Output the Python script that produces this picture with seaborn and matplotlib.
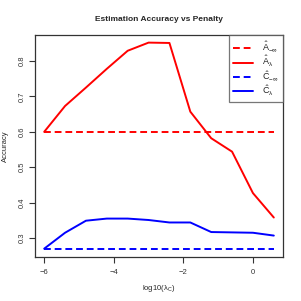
import matplotlib
matplotlib.use("Agg")
import matplotlib.pyplot as plt
import seaborn as sns
import pandas as pd

log_lambda = [-6.0, -5.4, -4.8, -4.2, -3.6, -3.0, -2.4, -1.8, -1.2, -0.6, 0.0, 0.6]
acc_A_lambda = [0.600, 0.673, 0.725, 0.778, 0.829, 0.852, 0.851, 0.657, 0.582, 0.544, 0.427, 0.358]
acc_C_lambda = [0.270, 0.315, 0.349, 0.355, 0.355, 0.351, 0.344, 0.344, 0.317, 0.316, 0.315, 0.307]
acc_A_inf = 0.600
acc_C_inf = 0.270

labels = [r'$\hat{A}_{-\infty}$', r'$\hat{A}_{\lambda}$', r'$\hat{C}_{-\infty}$', r'$\hat{C}_{\lambda}$']

sns.set_style("white")
plt.rcParams['font.family'] = ['Liberation Sans', 'DejaVu Sans']
plt.rcParams['mathtext.fontset'] = 'custom'
plt.rcParams['mathtext.rm'] = 'Liberation Sans'
plt.rcParams['mathtext.it'] = 'Liberation Sans'

fig = plt.figure(figsize=(3.01, 3.01), dpi=100)
ax = fig.add_axes([35/301, 44/301, 248/301, 222/301])

df = pd.DataFrame({
    "x": log_lambda * 4,
    "y": [acc_A_inf] * len(log_lambda) + acc_A_lambda + [acc_C_inf] * len(log_lambda) + acc_C_lambda,
    "series": sum([[l] * len(log_lambda) for l in labels], []),
})

colors = {labels[0]: "#ff0000", labels[1]: "#ff0000", labels[2]: "#0000ff", labels[3]: "#0000ff"}
dash_map = {labels[0]: (3.5, 2.0), labels[1]: "", labels[2]: (3.5, 2.0), labels[3]: ""}

sns.lineplot(data=df, x="x", y="y", hue="series", style="series", palette=colors,
             dashes=dash_map, linewidth=1.4, ax=ax, legend=True)

ax.set_xlim(-6.264, 0.864)
ax.set_ylim(0.2465, 0.8735)
ax.set_xticks([-6, -4, -2, 0])
ax.set_xticklabels(["\u22126", "\u22124", "\u22122", "0"])
ax.set_yticks([0.3, 0.4, 0.5, 0.6, 0.7, 0.8])
ax.set_yticklabels(["0.3", "0.4", "0.5", "0.6", "0.7", "0.8"], rotation=90, va="center")
ax.tick_params(axis="both", direction="out", length=4, width=0.8, labelsize=5.5,
               bottom=True, left=True, colors="#333333", labelcolor="#333333")
ax.tick_params(axis="y", pad=3)
ax.tick_params(axis="x", pad=5)
for s in ax.spines.values():
    s.set_color("#333333")
    s.set_linewidth(0.9)

ax.set_xlabel(r"log10($\lambda_C$)", fontsize=5.5, labelpad=5)
ax.set_ylabel("Accuracy", fontsize=5.5, labelpad=7)
ax.set_title("Estimation Accuracy vs Penalty", fontsize=6.0, fontweight="bold", pad=10)

leg = ax.legend(loc="upper right", borderaxespad=0, fontsize=6.5, frameon=True,
                fancybox=False, handlelength=2.2, labelspacing=0.05, borderpad=0.5,
                handletextpad=1.0)
leg.get_frame().set_edgecolor("#555555")
leg.get_frame().set_linewidth(0.9)

fig.savefig("out.png", dpi=100)
